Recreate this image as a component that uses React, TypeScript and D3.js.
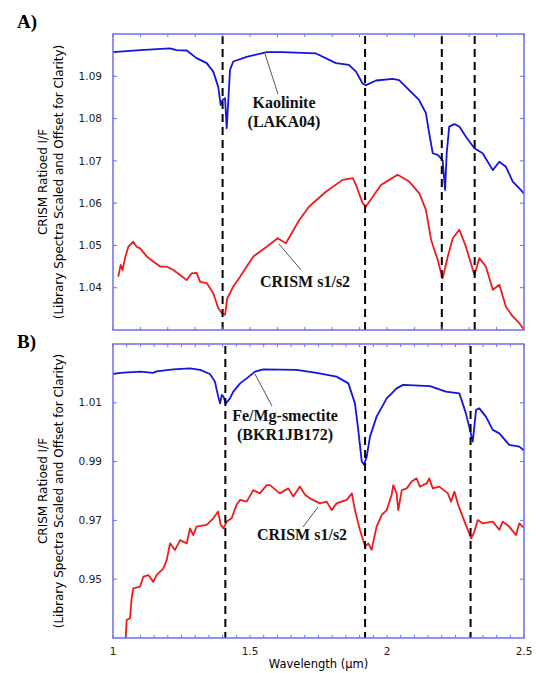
import React from 'react'
import * as d3 from 'd3'

// wavelength (um) and ratioed I/F
const kaoWl = [1.0, 1.099, 1.208, 1.232, 1.269, 1.305, 1.342, 1.366, 1.384, 1.393, 1.4, 1.409, 1.415, 1.421, 1.427, 1.439, 1.488, 1.561, 1.619, 1.741, 1.814, 1.861, 1.887, 1.911, 1.923, 1.96, 2.021, 2.044, 2.08, 2.117, 2.142, 2.154, 2.167, 2.185, 2.203, 2.212, 2.218, 2.227, 2.246, 2.264, 2.288, 2.319, 2.349, 2.386, 2.41, 2.434, 2.459, 2.483, 2.501]
const kaoVal = [1.0957, 1.0962, 1.0966, 1.0962, 1.0961, 1.0943, 1.0931, 1.0911, 1.0875, 1.0832, 1.0844, 1.0848, 1.0777, 1.0844, 1.0915, 1.0935, 1.0946, 1.0957, 1.0957, 1.0954, 1.0931, 1.0927, 1.0911, 1.0883, 1.0879, 1.089, 1.0894, 1.0891, 1.0868, 1.0844, 1.0813, 1.0765, 1.0718, 1.0714, 1.0702, 1.0631, 1.0719, 1.0781, 1.0787, 1.0781, 1.0757, 1.073, 1.0718, 1.0678, 1.0698, 1.0686, 1.0651, 1.0635, 1.0622]

const crismAWl = [1.019, 1.028, 1.035, 1.044, 1.056, 1.074, 1.086, 1.099, 1.123, 1.147, 1.172, 1.196, 1.22, 1.245, 1.269, 1.287, 1.305, 1.318, 1.342, 1.366, 1.384, 1.397, 1.409, 1.417, 1.427, 1.439, 1.464, 1.488, 1.512, 1.536, 1.561, 1.601, 1.631, 1.68, 1.716, 1.777, 1.838, 1.875, 1.887, 1.911, 1.923, 1.948, 1.978, 2.008, 2.039, 2.081, 2.118, 2.142, 2.161, 2.185, 2.203, 2.222, 2.24, 2.264, 2.288, 2.319, 2.337, 2.361, 2.386, 2.41, 2.434, 2.459, 2.483, 2.501]
const crismAVal = [1.0426, 1.0454, 1.0442, 1.047, 1.0497, 1.0509, 1.0497, 1.0493, 1.0474, 1.0462, 1.045, 1.045, 1.0442, 1.043, 1.0418, 1.0434, 1.0435, 1.0414, 1.0411, 1.0387, 1.0352, 1.034, 1.0336, 1.0375, 1.0387, 1.0403, 1.0426, 1.045, 1.0474, 1.0485, 1.0497, 1.0517, 1.0505, 1.056, 1.0592, 1.0627, 1.0655, 1.0659, 1.0643, 1.06, 1.0592, 1.0615, 1.0643, 1.0655, 1.0667, 1.0651, 1.0623, 1.0584, 1.0513, 1.0466, 1.0422, 1.0474, 1.0517, 1.0537, 1.0497, 1.043, 1.047, 1.045, 1.0395, 1.0407, 1.0355, 1.0332, 1.0316, 1.03]

const smecWl = [1.0, 1.026, 1.099, 1.147, 1.159, 1.22, 1.281, 1.318, 1.354, 1.372, 1.384, 1.391, 1.397, 1.403, 1.412, 1.427, 1.439, 1.464, 1.488, 1.518, 1.549, 1.67, 1.743, 1.816, 1.859, 1.883, 1.895, 1.908, 1.916, 1.926, 1.938, 1.962, 1.999, 2.035, 2.059, 2.157, 2.215, 2.264, 2.288, 2.3, 2.313, 2.325, 2.337, 2.361, 2.386, 2.41, 2.446, 2.483, 2.501]
const smecVal = [1.0198, 1.0202, 1.0206, 1.0202, 1.0207, 1.0214, 1.0217, 1.0212, 1.0198, 1.0172, 1.0121, 1.0098, 1.0127, 1.0121, 1.0098, 1.0115, 1.0138, 1.0166, 1.0183, 1.0206, 1.0214, 1.0212, 1.0202, 1.0189, 1.0166, 1.0098, 1.0008, 0.99, 0.9889, 0.9917, 0.9985, 1.0053, 1.0115, 1.0149, 1.0161, 1.0157, 1.0138, 1.0132, 1.0064, 1.0019, 0.9968, 1.0076, 1.0081, 1.0053, 1.0008, 0.9996, 0.9957, 0.9951, 0.9937]

const crismBWl = [1.045, 1.05, 1.062, 1.068, 1.074, 1.099, 1.111, 1.129, 1.147, 1.159, 1.184, 1.196, 1.208, 1.226, 1.245, 1.269, 1.281, 1.293, 1.305, 1.342, 1.366, 1.384, 1.393, 1.403, 1.415, 1.433, 1.451, 1.464, 1.488, 1.512, 1.536, 1.561, 1.573, 1.609, 1.64, 1.658, 1.682, 1.701, 1.719, 1.755, 1.78, 1.798, 1.816, 1.853, 1.872, 1.883, 1.901, 1.92, 1.932, 1.944, 1.962, 1.981, 1.999, 2.017, 2.023, 2.035, 2.041, 2.054, 2.072, 2.09, 2.108, 2.12, 2.145, 2.154, 2.167, 2.191, 2.222, 2.234, 2.246, 2.258, 2.276, 2.295, 2.307, 2.319, 2.331, 2.349, 2.386, 2.41, 2.422, 2.446, 2.471, 2.483, 2.501]
const crismBVal = [0.928, 0.9361, 0.9367, 0.9435, 0.9469, 0.9475, 0.9509, 0.9514, 0.9491, 0.9514, 0.9537, 0.9565, 0.9622, 0.9599, 0.9633, 0.9622, 0.9673, 0.965, 0.9679, 0.9685, 0.9707, 0.973, 0.9685, 0.9673, 0.9696, 0.9707, 0.9753, 0.977, 0.9764, 0.9803, 0.9792, 0.982, 0.982, 0.9792, 0.9809, 0.9781, 0.9815, 0.9787, 0.9775, 0.9758, 0.9764, 0.9735, 0.9758, 0.977, 0.9792, 0.9735, 0.9668, 0.9611, 0.9622, 0.96, 0.9679, 0.9719, 0.9735, 0.9787, 0.982, 0.9792, 0.9735, 0.9803, 0.9809, 0.9832, 0.9843, 0.9815, 0.9826, 0.9843, 0.9809, 0.9815, 0.9792, 0.9764, 0.9798, 0.9758, 0.9713, 0.9668, 0.9639, 0.9662, 0.9701, 0.969, 0.9696, 0.9668, 0.9696, 0.9679, 0.965, 0.969, 0.9673]

const bandsA = [1.4, 1.92, 2.2, 2.32]
const bandsB = [1.41, 1.92, 2.305]
const yTicksA = [1.04, 1.05, 1.06, 1.07, 1.08, 1.09]
const yTicksB = [0.95, 0.97, 0.99, 1.01]
const xTicks = [1, 1.5, 2, 2.5]

const W = 536
const H = 673
const left = 113
const right = 524
const frameColor = '#6e6ef2'
const sansFont = '"DejaVu Sans", Verdana, sans-serif'
const serifFont = '"Liberation Serif", "Times New Roman", serif'

const xScale = d3.scaleLinear().domain([1, 2.5]).range([left, right])

type Label = { lines: string[], x: number, y: number, lx1: number, ly1: number, lx2: number, ly2: number }

const Panel = ({id, top, bottom, yDomain, yTicks, minorStep, bands, lib, crism, labels, letter, showX}: any) => {
  const yScale = d3.scaleLinear().domain(yDomain).range([bottom, top])
  const line = d3.line<[number, number]>().x(d => xScale(d[0])).y(d => yScale(d[1]))
  const minor = d3.range(1, 2.5001, minorStep)
  const midY = (top + bottom) / 2

  return (
    <g>
      <defs>
        <clipPath id={`clip-${id}`}>
          <rect x={left} y={top} width={right - left} height={bottom - top} />
        </clipPath>
      </defs>
      <text x={17} y={letter.y} fontFamily={serifFont} fontWeight="bold" fontSize={19}>{letter.text}</text>
      {/* y title */}
      <text transform={`translate(47,${midY}) rotate(-90)`} textAnchor="middle" fontFamily={sansFont} fontSize={12}>CRISM Ratioed I/F</text>
      <text transform={`translate(63,${midY}) rotate(-90)`} textAnchor="middle" fontFamily={sansFont} fontSize={12}>(Library Spectra Scaled and Offset for Clarity)</text>

      <g clipPath={`url(#clip-${id})`}>
        <path d={line(d3.zip(lib.wl, lib.val) as any) || ''} fill="none" stroke="#1414e0" strokeWidth={1.8} strokeLinejoin="round" />
        <path d={line(d3.zip(crism.wl, crism.val) as any) || ''} fill="none" stroke="#ee1c1c" strokeWidth={1.8} strokeLinejoin="round" />
      </g>

      {bands.map((b: number, i: number) =>
        <line key={i} x1={xScale(b)} x2={xScale(b)} y1={top + 2} y2={bottom} stroke="black" strokeWidth={2} strokeDasharray="8,5" />
      )}

      {labels.map((l: Label, i: number) =>
        <g key={i}>
          <line x1={l.lx1} y1={l.ly1} x2={l.lx2} y2={l.ly2} stroke="#555" strokeWidth={1} />
          {l.lines.map((s, j) =>
            <text key={j} x={l.x} y={l.y + j * 19} textAnchor="middle" fontFamily={serifFont} fontWeight="bold" fontSize={16} fill="#111">{s}</text>
          )}
        </g>
      )}

      {/* frame and ticks */}
      <rect x={left} y={top} width={right - left} height={bottom - top} fill="none" stroke={frameColor} strokeWidth={1.5} />
      {minor.map((t, i) =>
        <g key={i} stroke={frameColor} strokeWidth={1}>
          <line x1={xScale(t)} x2={xScale(t)} y1={top} y2={top + 3} />
          <line x1={xScale(t)} x2={xScale(t)} y1={bottom} y2={bottom - 3} />
        </g>
      )}
      {yTicks.map((t: number, i: number) =>
        <g key={i}>
          <line x1={left} x2={left + 4} y1={yScale(t)} y2={yScale(t)} stroke={frameColor} />
          <line x1={right} x2={right - 4} y1={yScale(t)} y2={yScale(t)} stroke={frameColor} />
          <text x={102} y={yScale(t)} dy=".35em" textAnchor="end" fontFamily={sansFont} fontSize={10.5} fill="#222">{d3.format('.2f')(t)}</text>
        </g>
      )}
      {showX && xTicks.map((t, i) =>
        <text key={i} x={xScale(t)} y={655} textAnchor="middle" fontFamily={sansFont} fontSize={10.5} fill="#222">{t}</text>
      )}
      {showX && <text x={(left + right) / 2} y={668} textAnchor="middle" fontFamily={sansFont} fontSize={11.5}>Wavelength (µm)</text>}
    </g>
  )
}

export default function App() {
  const labelsA: Label[] = [
    {lines: ['Kaolinite', '(LAKA04)'], x: 284, y: 108, lx1: 278, ly1: 94, lx2: 265, ly2: 54},
    {lines: ['CRISM s1/s2'], x: 305, y: 287, lx1: 301, ly1: 270, lx2: 279, ly2: 244},
  ]
  const labelsB: Label[] = [
    {lines: ['Fe/Mg-smectite', '(BKR1JB172)'], x: 285, y: 421, lx1: 272, ly1: 406, lx2: 255, ly2: 374},
    {lines: ['CRISM s1/s2'], x: 302, y: 540, lx1: 303, ly1: 527, lx2: 318, ly2: 507},
  ]
  return (
    <svg width={W} height={H} style={{position: 'absolute', left: 0, top: 0, background: 'white'}}>
      <Panel id="a" top={34} bottom={330} yDomain={[1.03, 1.1]} yTicks={yTicksA} minorStep={0.1} bands={bandsA}
        lib={{wl: kaoWl, val: kaoVal}} crism={{wl: crismAWl, val: crismAVal}} labels={labelsA}
        letter={{text: 'A)', y: 28}} showX={false} />
      <Panel id="b" top={344} bottom={638} yDomain={[0.93, 1.03]} yTicks={yTicksB} minorStep={0.05} bands={bandsB}
        lib={{wl: smecWl, val: smecVal}} crism={{wl: crismBWl, val: crismBVal}} labels={labelsB}
        letter={{text: 'B)', y: 348}} showX={true} />
    </svg>
  )
}
